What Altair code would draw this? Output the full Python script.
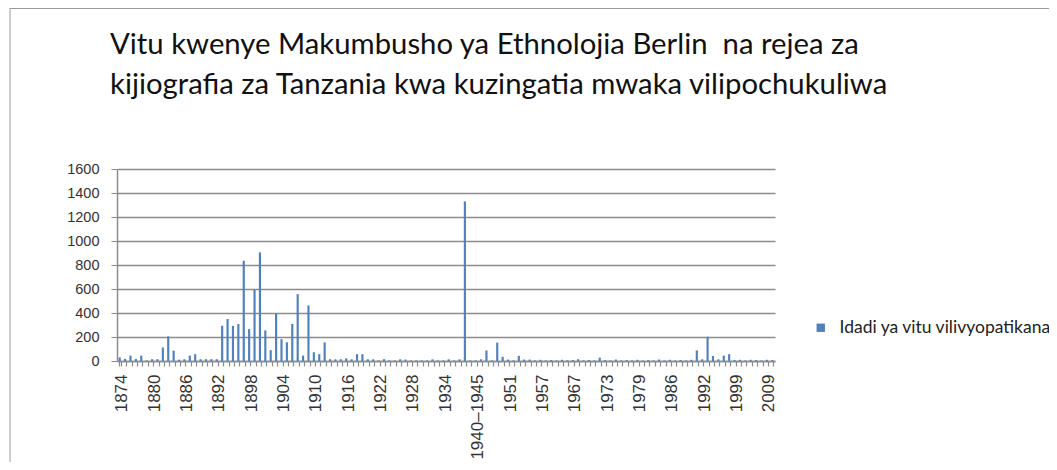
import json
import altair as alt
import pandas as pd

# categories (years when objects were collected)
years_a = [str(y) for y in range(1874, 1940)]
years_b = ["1940–1945", "1946", "1947", "1948", "1949", "1950", "1951",
           "1952", "1953", "1954", "1955", "1956", "1957",
           "1958", "1960", "1962", "1964", "1965", "1967",
           "1968", "1969", "1970", "1971", "1972", "1973",
           "1974", "1975", "1976", "1977", "1978", "1979",
           "1980", "1981", "1982", "1984", "1985", "1986",
           "1987", "1988", "1989", "1990", "1991", "1992",
           "1993", "1994", "1995", "1996", "1998", "1999",
           "2000", "2002", "2004", "2006", "2008", "2009", "2010"]
categories = years_a + years_b

counts = [
    30, 17, 45, 17, 45, 5, 15, 15, 112, 205,
    86, 11, 15, 45, 57, 15, 15, 15, 15, 294,
    350, 293, 308, 835, 266, 593, 905, 255, 90, 398,
    182, 156, 309, 557, 45, 463, 73, 57, 155, 15,
    14, 15, 22, 14, 57, 57, 14, 14, 5, 15,
    5, 5, 14, 12, 5, 5, 5, 5, 14, 5,
    5, 14, 5, 14, 1330, 5, 5, 14, 88, 5,
    153, 35, 12, 5, 43, 12, 12, 5, 10, 5,
    8, 5, 10, 5, 8, 15, 5, 8, 5, 28,
    8, 5, 12, 5, 8, 5, 10, 5, 8, 5,
    12, 5, 10, 5, 8, 5, 10, 88, 14, 202,
    42, 14, 45, 57, 8, 10, 5, 10, 8, 5,
    10, 8,
]

label_values = ["1874", "1880", "1886", "1892", "1898", "1904", "1910", "1916",
                "1922", "1928", "1934", "1940–1945", "1951", "1957", "1967",
                "1973", "1979", "1986", "1992", "1999", "2009"]

y_ticks = [0, 200, 400, 600, 800, 1000, 1200, 1400, 1600]

series_name = "Idadi ya vitu vilivyopatikana"
title_lines = ["Vitu kwenye Makumbusho ya Ethnolojia Berlin\u00a0 na rejea za",
               "kijiografia za Tanzania kwa kuzingatia mwaka vilipochukuliwa"]

df = pd.DataFrame({"mwaka": categories, "idadi": counts, "series": series_name})

grey = "#8c8c8c"
label_expr = ("indexof(" + json.dumps(label_values, ensure_ascii=False)
              + ", datum.value) >= 0 ? datum.label : ''")

bars = alt.Chart(df).mark_bar().encode(
    x=alt.X("mwaka:N", sort=categories,
            scale=alt.Scale(paddingInner=0.6, paddingOuter=0.3),
            axis=alt.Axis(title=None, labelAngle=-90, labelExpr=label_expr,
                          tickBand="extent", tickSize=5, labelPadding=8,
                          labelFontSize=17, labelFont="Liberation Sans",
                          labelColor="#333333", domainColor=grey, tickColor=grey,
                          domainWidth=1.5, tickWidth=1.2,
                          labelOverlap=False, labelBound=False, grid=False,
                          labelOffset=2)),
    y=alt.Y("idadi:Q", scale=alt.Scale(domain=[0, 1600], nice=False),
            axis=alt.Axis(title=None, values=y_ticks, format="d", grid=True,
                          gridColor=grey, gridWidth=1.5, tickSize=6,
                          tickColor=grey, domainColor=grey, domainWidth=1.5,
                          labelPadding=12, labelFontSize=14.5,
                          labelFont="Liberation Sans", labelColor="#333333")),
    color=alt.Color("series:N", scale=alt.Scale(range=["#4F81BD"]),
                    legend=alt.Legend(title=None, orient="none", legendX=695,
                                      legendY=150, symbolType="square",
                                      symbolSize=70, symbolStrokeWidth=0,
                                      labelLimit=0, labelOffset=10,
                                      labelFont="Lato", labelFontSize=17.5,
                                      labelColor="#222222")),
)

frame = pd.DataFrame({"k": [0]})
border_left = alt.Chart(frame).mark_rule(color="#9a9a9a", strokeWidth=1).encode(
    x=alt.value(-107), y=alt.value(-161), y2=alt.value(310))
border_top = alt.Chart(frame).mark_rule(color="#9a9a9a", strokeWidth=1).encode(
    x=alt.value(-107), x2=alt.value(940), y=alt.value(-160.5))

chart = alt.layer(bars, border_left, border_top).properties(
    width=658, height=192,
    padding={"left": 109, "top": 161, "right": 274, "bottom": 101},
    autosize=alt.AutoSizeParams(type="none"),
    title=alt.TitleParams(text=title_lines, anchor="start", frame="group",
                          font="Lato", fontSize=29.3, fontWeight="normal",
                          color="#111111", lineHeight=40, dx=-7, offset=0,
                          dy=93),
).configure_view(stroke=None)

chart.save("out.html", embed_options={"renderer": "svg", "actions": False})
